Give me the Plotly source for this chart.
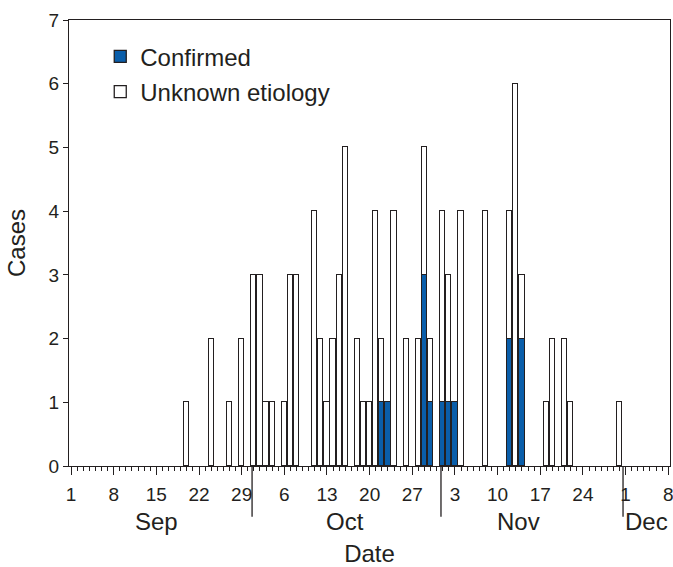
import plotly.graph_objects as go

# ---- data ----
dates = ["2009-09-20", "2009-09-24", "2009-09-27", "2009-09-29",
         "2009-10-01", "2009-10-02", "2009-10-03", "2009-10-04",
         "2009-10-06", "2009-10-07", "2009-10-08", "2009-10-11",
         "2009-10-12", "2009-10-13", "2009-10-14", "2009-10-15",
         "2009-10-16", "2009-10-18", "2009-10-19", "2009-10-20",
         "2009-10-21", "2009-10-22", "2009-10-23", "2009-10-24",
         "2009-10-26", "2009-10-28", "2009-10-29", "2009-10-30",
         "2009-11-01", "2009-11-02", "2009-11-03", "2009-11-04",
         "2009-11-08", "2009-11-12", "2009-11-13", "2009-11-14",
         "2009-11-18", "2009-11-19", "2009-11-21", "2009-11-22",
         "2009-11-30"]
total_cases = [1, 2, 1, 2,
               3, 3, 1, 1,
               1, 3, 3, 4,
               2, 1, 2, 3,
               5, 2, 1, 1,
               4, 2, 1, 4,
               2, 2, 5, 2,
               4, 3, 1, 4,
               4, 4, 6, 3,
               1, 2, 2, 1,
               1]
confirmed = [0, 0, 0, 0,
             0, 0, 0, 0,
             0, 0, 0, 0,
             0, 0, 0, 0,
             0, 0, 0, 0,
             0, 1, 1, 0,
             0, 0, 3, 1,
             1, 1, 1, 0,
             0, 2, 0, 2,
             0, 0, 0, 0,
             0]
unknown = [t - c for t, c in zip(total_cases, confirmed)]

tick_dates = ["2009-09-01", "2009-09-08", "2009-09-15", "2009-09-22", "2009-09-29",
              "2009-10-06", "2009-10-13", "2009-10-20", "2009-10-27",
              "2009-11-03", "2009-11-10", "2009-11-17", "2009-11-24",
              "2009-12-01", "2009-12-08"]
tick_text = ["1", "8", "15", "22", "29", "6", "13", "20", "27",
             "3", "10", "17", "24", "1", "8"]
month_names = ["Sep", "Oct", "Nov", "Dec"]
month_label_dates = ["2009-09-15", "2009-10-16", "2009-11-13 12:00", "2009-12-04 12:00"]
month_boundaries = ["2009-09-30 17:00", "2009-10-31 17:00", "2009-11-30 14:00"]

INK = "#231f20"
BLUE = "#0a5eaa"
FONT = "Liberation Sans, Arial, sans-serif"
DAY_MS = 86400000

fig = go.Figure()
fig.add_trace(go.Bar(
    x=dates, y=confirmed, name="Confirmed", legendgroup="c",
    width=0.85 * DAY_MS,
    marker=dict(color=BLUE, line=dict(color=INK, width=1.3)),
))
fig.add_trace(go.Bar(
    x=dates, y=unknown, name="Unknown etiology", legendgroup="u",
    width=0.85 * DAY_MS,
    marker=dict(color="white", line=dict(color=INK, width=1.3)),
))

shapes = [dict(type="line", xref="x", yref="paper", x0=d, x1=d, y0=0, y1=-0.114,
               line=dict(color=INK, width=1.3)) for d in month_boundaries]
annotations = [dict(x=d, y=-0.124, xref="x", yref="paper", text=m, showarrow=False,
                    xanchor="center", yanchor="middle",
                    font=dict(size=24, color=INK, family=FONT))
               for d, m in zip(month_label_dates, month_names)]

fig.update_layout(
    width=673, height=567,
    margin=dict(l=69, r=3, t=20, b=101, autoexpand=False),
    barmode="stack",
    plot_bgcolor="white", paper_bgcolor="white",
    font=dict(family=FONT, color=INK, size=19),
    showlegend=True,
    legend=dict(x=0.052, y=0.968, xanchor="left", yanchor="top",
                traceorder="grouped", tracegroupgap=1,
                bgcolor="rgba(0,0,0,0)",
                font=dict(size=24, color=INK, family=FONT)),
    shapes=shapes,
    annotations=annotations,
    bargap=0,
)
fig.update_xaxes(
    type="date", automargin=False,
    range=["2009-08-31 16:00", "2009-12-08 07:00"],
    tickmode="array", tickvals=tick_dates, ticktext=tick_text,
    ticks="outside", ticklen=8, tickwidth=1.3, tickcolor=INK,
    ticklabelstandoff=3, ticklabeloverflow="allow",
    minor=dict(dtick=DAY_MS, tick0="2009-09-01", ticks="outside", ticklen=4,
               tickwidth=1.3, tickcolor=INK, showgrid=False),
    showline=True, linecolor=INK, linewidth=1.3, mirror=True,
    showgrid=False, zeroline=False,
    tickfont=dict(size=19, color=INK),
    title=dict(text="Date", font=dict(size=24, color=INK), standoff=46),
)
fig.update_yaxes(
    automargin=False,
    range=[0, 7], dtick=1, tick0=0,
    ticks="outside", ticklen=5, tickwidth=1.3, tickcolor=INK,
    showline=True, linecolor=INK, linewidth=1.3, mirror=True,
    showgrid=False, zeroline=False,
    tickfont=dict(size=19, color=INK),
    title=dict(text="Cases", font=dict(size=24, color=INK), standoff=16),
)

# remove the default page margin so the 673x567 figure fills the window
fig.write_html("out.html", config={"displayModeBar": False},
               post_script="document.body.style.margin='0px';")
